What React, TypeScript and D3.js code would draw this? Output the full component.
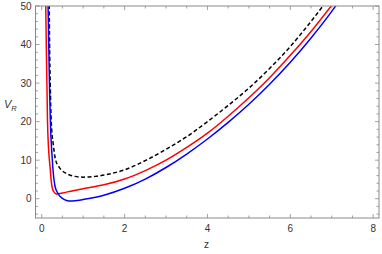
import React from 'react'
import * as d3 from 'd3'

// z values and potential V_R
const zBlack = [0.18, 0.19, 0.205, 0.23, 0.28, 0.33, 0.42, 0.5, 0.6, 0.8, 1.0, 1.3, 1.6, 2.0, 2.5, 3.0, 3.5, 4.0, 4.5, 5.0, 5.5, 6.0, 6.5, 6.8]
const vBlack = [52, 40, 30, 20, 14, 10.3, 8.2, 7.2, 6.5, 5.8, 5.6, 5.8, 6.35, 7.5, 9.9, 12.8, 16.1, 20.0, 24.2, 28.7, 33.8, 39.5, 46.0, 50.2]

const zRed = [0.095, 0.11, 0.125, 0.14, 0.16, 0.2, 0.234, 0.26, 0.3, 0.345, 0.4, 0.5, 0.7, 1.0, 1.5, 2.0, 2.5, 3.0, 3.5, 4.0, 4.5, 5.0, 5.5, 6.0, 6.5, 7.0]
const vRed = [52, 40, 30, 20, 14, 8.4, 4.2, 2.6, 1.7, 1.25, 1.3, 1.5, 1.95, 2.6, 3.6, 5.1, 7.3, 10.0, 13.3, 17.0, 21.4, 26.2, 31.4, 37.2, 43.4, 50.2]

const zBlue = [0.15, 0.17, 0.19, 0.215, 0.24, 0.265, 0.29, 0.32, 0.36, 0.4, 0.5, 0.6, 0.7, 0.8, 1.0, 1.5, 2.0, 2.5, 3.0, 3.5, 4.0, 4.5, 5.0, 5.5, 6.0, 6.5, 7.0, 7.1]
const vBlue = [52, 40, 28, 18, 12.7, 8.5, 5.5, 3.3, 2.0, 1.2, 0.1, -0.45, -0.6, -0.55, -0.2, 0.9, 2.7, 5.1, 8.1, 11.6, 15.5, 19.8, 24.5, 29.7, 35.4, 41.7, 48.6, 50.1]

const xTicks = [0, 2, 4, 6, 8]
const yTicks = [0, 10, 20, 30, 40, 50]

const W = 382, H = 254
const left = 35.5, right = 379, top = 6, bottom = 218

export default function App() {
  const x = d3.scaleLinear().domain([-0.15, 8.14]).range([left, right])
  const y = d3.scaleLinear().domain([-5, 50]).range([bottom, top])

  const path = (zs: number[], vs: number[]) =>
    d3.line<number>()
      .x((_, i) => x(zs[i]))
      .y((_, i) => y(vs[i]))
      .curve(d3.curveMonotoneX)(zs) || ''

  const xMinor = d3.range(0, 8.01, 0.5).filter(v => v % 2 !== 0)
  const yMinor = d3.range(-4, 50.01, 2).filter(v => v % 10 !== 0)

  const frame = '#8a8a8a'
  const label = '#333'

  return (
    <svg width={W} height={H} style={{ position: 'absolute', left: 0, top: 0 }}
      fontFamily="'Liberation Sans', Arial, sans-serif">
      <defs>
        <clipPath id="plot">
          <rect x={left} y={top} width={right - left} height={bottom - top} />
        </clipPath>
      </defs>
      <g clipPath="url(#plot)" fill="none" strokeWidth={1.5}>
        <path d={path(zBlack, vBlack)} stroke="#000" strokeDasharray="4,2.5" />
        <path d={path(zRed, vRed)} stroke="#ff0000" />
        <path d={path(zBlue, vBlue)} stroke="#0000ff" />
      </g>
      <rect x={left} y={top} width={right - left} height={bottom - top}
        fill="none" stroke={frame} strokeWidth={1} />
      <g stroke={frame} strokeWidth={0.8}>
        {xTicks.map(t => (
          <g key={'xt' + t}>
            <line x1={x(t)} x2={x(t)} y1={bottom} y2={bottom - 4} />
            <line x1={x(t)} x2={x(t)} y1={top} y2={top + 4} />
          </g>
        ))}
        {xMinor.map(t => (
          <g key={'xm' + t}>
            <line x1={x(t)} x2={x(t)} y1={bottom} y2={bottom - 2.5} />
            <line x1={x(t)} x2={x(t)} y1={top} y2={top + 2.5} />
          </g>
        ))}
        {yTicks.map(t => (
          <g key={'yt' + t}>
            <line x1={left} x2={left + 4} y1={y(t)} y2={y(t)} />
            <line x1={right} x2={right - 4} y1={y(t)} y2={y(t)} />
          </g>
        ))}
        {yMinor.map(t => (
          <g key={'ym' + t}>
            <line x1={left} x2={left + 2.5} y1={y(t)} y2={y(t)} />
            <line x1={right} x2={right - 2.5} y1={y(t)} y2={y(t)} />
          </g>
        ))}
      </g>
      <g fill={label} fontSize={10}>
        {xTicks.map(t => (
          <text key={'xl' + t} x={x(t)} y={bottom + 14} textAnchor="middle">{t}</text>
        ))}
        {yTicks.map(t => (
          <text key={'yl' + t} x={left - 4} y={y(t) + 3.5} textAnchor="end">{t}</text>
        ))}
      </g>
      <text x={x(4) - 1} y={248} fill={label} fontSize={10} textAnchor="middle">z</text>
      <text x={4} y={108} fill={label} fontSize={11} fontStyle="italic">V<tspan fontSize={7.5} dy={2.5}>R</tspan></text>
    </svg>
  )
}
